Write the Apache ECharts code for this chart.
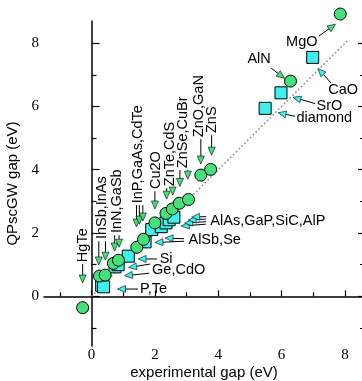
<!DOCTYPE html>
<html>
<head>
<meta charset="utf-8">
<script src="https://cdn.jsdelivr.net/npm/echarts@6/dist/echarts.min.js"></script>
<style>
  html, body { margin: 0; padding: 0; background: #fff; }
  #chart { width: 362px; height: 381px; }
</style>
</head>
<body>
<div id="chart"></div>
<script>
// QPscGW gap vs experimental gap (eV)
var circlePoints = [
  [-0.28, -0.36], [0.25, 0.64], [0.43, 0.67], [0.69, 1.04], [0.85, 1.14],
  [1.43, 1.55], [1.64, 1.80], [2.0, 2.32], [2.35, 2.62], [2.55, 2.76],
  [2.77, 2.94], [3.06, 3.06], [3.45, 3.83], [3.76, 4.01], [6.28, 6.8], [7.85, 8.92]
];
var squarePoints = [
  [0.32, 0.35], [0.38, 0.3], [0.74, 0.93], [0.84, 1.0], [1.16, 1.27],
  [1.69, 1.72], [1.9, 2.11], [2.2, 2.2], [2.35, 2.32], [2.45, 2.42], [2.6, 2.5],
  [5.48, 5.94], [5.98, 6.43], [6.98, 7.55]
];
var diagonal = [[0, 0], [8.1, 8.1]];
var majorTicks = [0, 2, 4, 6, 8];
var minorTicks = [-1, 1, 3, 5, 7];

var labelTexts = [
  'HgTe', 'InSb,InAs', 'InN,GaSb', 'InP,GaAs,CdTe', 'Cu2O', 'ZnTe,CdS', 'ZnSe,CuBr',
  'ZnO,GaN', 'ZnS', 'P,Te', 'Si', 'Ge,CdO', 'AlSb,Se', 'AlAs,GaP,SiC,AlP',
  'diamond', 'SrO', 'CaO', 'AlN', 'MgO'
];
// [x, y, vertical]
var labelAnchors = [
  [-0.28, 1.08, 1], [0.32, 1.81, 1], [0.81, 2.0, 1], [1.47, 2.94, 1], [2.04, 3.39, 1],
  [2.48, 3.48, 1], [2.9, 4.05, 1], [3.39, 5.03, 1], [3.79, 5.16, 1],
  [1.53, 0.23, 0], [2.15, 1.18, 0], [1.91, 0.83, 0], [3.06, 1.78, 0], [3.75, 2.38, 0],
  [6.47, 5.65, 0], [7.1, 6.01, 0], [7.47, 6.53, 0], [4.92, 7.49, 0], [6.14, 8.04, 0]
];
// [x1, y1, x2 (tip), y2 (tip), kind] kind 0 = circle colour, 1 = square colour
var arrows = [
  [-0.28, 1.02, -0.28, 0.42, 0],
  [0.23, 1.74, 0.23, 0.99, 0], [0.44, 1.74, 0.44, 1.14, 0],
  [0.73, 1.93, 0.73, 1.43, 0], [0.87, 1.93, 0.87, 1.55, 0],
  [1.42, 2.88, 1.42, 2.19, 0], [1.51, 2.88, 1.51, 2.28, 0], [1.62, 2.88, 1.62, 2.38, 0],
  [2.0, 3.32, 2.0, 2.76, 0],
  [2.37, 3.42, 2.37, 3.07, 0], [2.56, 3.42, 2.56, 3.2, 0],
  [2.79, 3.99, 2.79, 3.47, 0], [3.04, 3.99, 3.04, 3.7, 0],
  [3.45, 4.97, 3.45, 4.18, 0],
  [3.79, 5.09, 3.79, 4.46, 0],
  [5.67, 7.21, 6.09, 6.89, 0],
  [7.17, 8.22, 7.7, 8.6, 0],
  [1.47, 0.23, 0.82, 0.23, 1],
  [2.07, 1.18, 1.47, 1.18, 1],
  [1.85, 1.02, 1.17, 0.91, 1], [1.82, 0.73, 1.04, 0.65, 1],
  [2.92, 1.82, 2.32, 1.84, 1], [2.92, 1.74, 2.0, 1.7, 1],
  [3.61, 2.28, 2.83, 2.22, 1], [3.61, 2.36, 2.94, 2.31, 1],
  [3.61, 2.44, 3.05, 2.41, 1], [3.61, 2.52, 3.16, 2.5, 1],
  [6.42, 5.69, 5.89, 5.8, 1],
  [7.06, 6.09, 6.36, 6.29, 1],
  [7.56, 6.74, 7.15, 7.2, 1]
];

var green = '#44e07a';
var cyan = '#3ef0f0';
var xMin = -1.5, xMax = 8.6, yMin = -1.57, yMax = 8.7;

function axisBase(min, max) {
  return { type: 'value', min: min, max: max, splitLine: { show: false } };
}

var myChart = echarts.init(document.getElementById('chart'));

var xMajor = axisBase(xMin, xMax);
xMajor.position = 'bottom';
xMajor.name = 'experimental gap (eV)';
xMajor.nameLocation = 'middle';
xMajor.nameGap = 19;
xMajor.nameMoveOverlap = false;
xMajor.nameTextStyle = { fontFamily: 'Liberation Sans', fontSize: 15, color: '#000' };
xMajor.axisLine = { lineStyle: { color: '#000', width: 1.5 } };
xMajor.axisTick = { inside: true, length: 6, customValues: majorTicks, lineStyle: { color: '#000', width: 1.2 } };
xMajor.axisLabel = { customValues: majorTicks, fontFamily: 'Liberation Serif', fontSize: 15, color: '#000', margin: 2 };

var xMinor = axisBase(xMin, xMax);
xMinor.position = 'bottom';
xMinor.axisLine = { show: false };
xMinor.axisTick = { inside: true, length: 4, customValues: minorTicks, lineStyle: { color: '#000', width: 1.2 } };
xMinor.axisLabel = { show: false };

var yMajor = axisBase(yMin, yMax);
yMajor.position = 'left';
yMajor.name = 'QPscGW gap (eV)';
yMajor.nameLocation = 'middle';
yMajor.nameGap = 24;
yMajor.nameMoveOverlap = false;
yMajor.nameTextStyle = { fontFamily: 'Liberation Sans', fontSize: 15, color: '#000' };
yMajor.axisLine = { show: true, lineStyle: { color: '#000', width: 1.5 } };
yMajor.axisTick = { show: true, inside: true, length: 8, customValues: majorTicks, lineStyle: { color: '#000', width: 1.2 } };
yMajor.axisLabel = { customValues: majorTicks, fontFamily: 'Liberation Serif', fontSize: 15, color: '#000', margin: 5 };

var yMinor = axisBase(yMin, yMax);
yMinor.position = 'left';
yMinor.axisLine = { show: false };
yMinor.axisTick = { show: true, inside: true, length: 5, customValues: minorTicks, lineStyle: { color: '#000', width: 1.2 } };
yMinor.axisLabel = { show: false };

var yRight = axisBase(yMin, yMax);
yRight.position = 'right';
yRight.axisLine = { show: true, lineStyle: { color: '#000', width: 1.5 } };
yRight.axisTick = { show: true, inside: true, length: 6, customValues: majorTicks, lineStyle: { color: '#000', width: 1.2 } };
yRight.axisLabel = { show: false };

var yRightMinor = axisBase(yMin, yMax);
yRightMinor.position = 'right';
yRightMinor.axisLine = { show: false };
yRightMinor.axisTick = { show: true, inside: true, length: 4, customValues: minorTicks, lineStyle: { color: '#000', width: 1.2 } };
yRightMinor.axisLabel = { show: false };

function renderArrow(params, api) {
  var p1 = api.coord([api.value(0), api.value(1)]);
  var p2 = api.coord([api.value(2), api.value(3)]);
  var dx = p2[0] - p1[0], dy = p2[1] - p1[1];
  var len = Math.sqrt(dx * dx + dy * dy) || 1;
  var ux = dx / len, uy = dy / len;
  var hl = 8, hw = 3.5;
  var bx = p2[0] - ux * hl, by = p2[1] - uy * hl;
  return {
    type: 'group',
    children: [
      { type: 'line', shape: { x1: p1[0], y1: p1[1], x2: bx, y2: by },
        style: { stroke: '#000', lineWidth: 1 } },
      { type: 'polygon',
        shape: { points: [[p2[0], p2[1]], [bx - uy * hw, by + ux * hw], [bx + uy * hw, by - ux * hw]] },
        style: { fill: api.value(4) ? cyan : green, stroke: '#000', lineWidth: 0.6 } }
    ]
  };
}

function renderLabel(params, api) {
  var p = api.coord([api.value(0), api.value(1)]);
  return {
    type: 'text',
    x: p[0],
    y: p[1],
    rotation: api.value(2) ? Math.PI / 2 : 0,
    style: {
      text: labelTexts[params.dataIndex],
      fill: '#000',
      fontFamily: 'Liberation Sans',
      fontSize: 14.5,
      align: 'left',
      verticalAlign: 'middle'
    }
  };
}

var option = {
  animation: false,
  grid: { left: 44, top: 21, width: 320, height: 325, outerBoundsMode: 'none', containLabel: false },
  xAxis: [xMajor, xMinor],
  yAxis: [yMajor, yMinor, yRight, yRightMinor],
  series: [
    {
      type: 'line',
      data: diagonal,
      showSymbol: false,
      symbol: 'none',
      lineStyle: { color: '#888', width: 1.5, type: [1.5, 2.5] },
      z: 1
    },
    {
      type: 'custom',
      data: arrows,
      renderItem: renderArrow,
      encode: { x: [0, 2], y: [1, 3] },
      z: 2
    },
    {
      type: 'scatter',
      data: squarePoints,
      symbol: 'rect',
      symbolSize: 12,
      clip: false,
      itemStyle: { color: cyan, borderColor: '#000', borderWidth: 1, opacity: 1 },
      z: 3
    },
    {
      type: 'scatter',
      data: circlePoints,
      symbol: 'circle',
      symbolSize: 12,
      clip: false,
      itemStyle: { color: green, borderColor: '#000', borderWidth: 1, opacity: 1 },
      z: 4
    },
    {
      type: 'custom',
      data: labelAnchors,
      renderItem: renderLabel,
      encode: { x: 0, y: 1 },
      z: 5
    }
  ]
};

myChart.setOption(option);
window.addEventListener('resize', function () {
  myChart.resize();
});
</script>
</body>
</html>
